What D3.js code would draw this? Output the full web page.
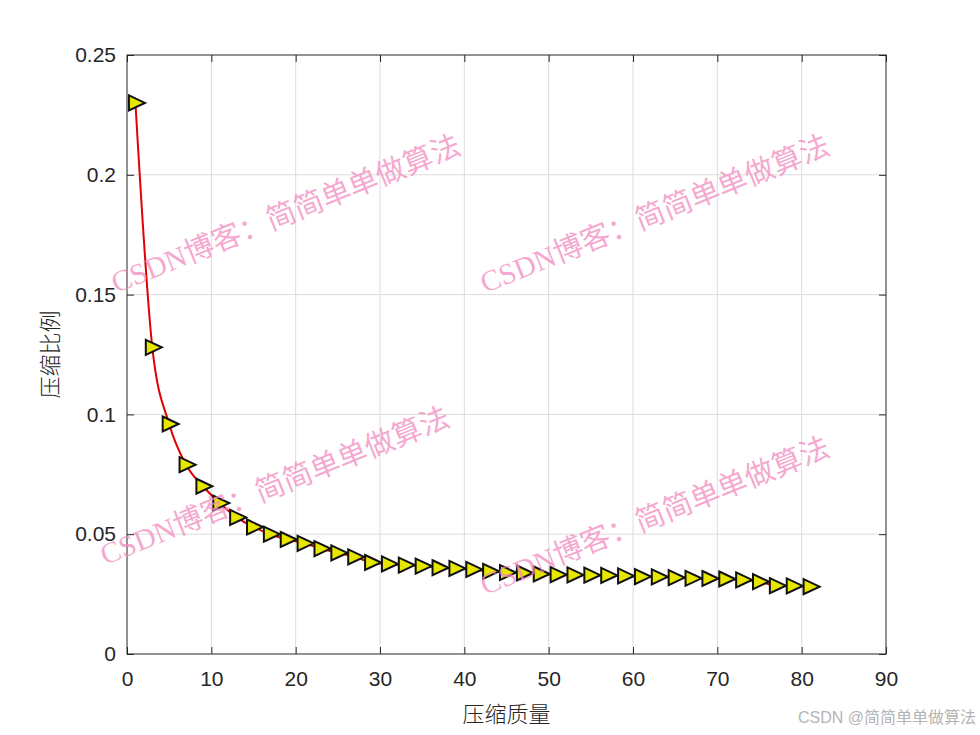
<!DOCTYPE html>
<html>
<head>
<meta charset="utf-8">
<script src="https://cdnjs.cloudflare.com/ajax/libs/d3/7.8.5/d3.min.js"></script>
<style>
  body { margin: 0; background: #fff; }
  svg { display: block; }
  .tick text { font-family: "Liberation Sans", Arial, sans-serif; font-size: 21px; fill: #262626; }
</style>
</head>
<body>
<div id="chart"></div>
<script>
// compression quality (x) and compression ratio (y)
var quality = [1, 3, 5, 7, 9, 11, 13, 15, 17, 19, 21, 23, 25, 27, 29, 31, 33, 35, 37, 39,
               41, 43, 45, 47, 49, 51, 53, 55, 57, 59, 61, 63, 65, 67, 69, 71, 73, 75, 77, 79, 81];
var ratio = [0.230, 0.128, 0.096, 0.079, 0.070, 0.063, 0.057, 0.053, 0.050, 0.0478,
             0.0462, 0.0440, 0.0422, 0.0405, 0.0382, 0.0376, 0.0371, 0.0367, 0.0360, 0.0357,
             0.0353, 0.0345, 0.0340, 0.0338, 0.0334, 0.0331, 0.0330, 0.0329, 0.0328, 0.0326,
             0.0323, 0.0322, 0.0319, 0.0316, 0.0315, 0.0313, 0.0309, 0.0302, 0.0285, 0.0284, 0.0281];
var xTicks = [0, 10, 20, 30, 40, 50, 60, 70, 80, 90];
var yTicks = [0, 0.05, 0.1, 0.15, 0.2, 0.25];
var xLabel = "压缩质量";
var yLabel = "压缩比例";
var wmText = "CSDN博客：简简单单做算法";

var width = 980, height = 735;
var margin = {left: 127, right: 94, top: 55, bottom: 81};
var w = width - margin.left - margin.right,
    h = height - margin.top - margin.bottom;

var svg = d3.select("#chart").append("svg")
    .attr("width", width).attr("height", height);

var x = d3.scaleLinear().domain([0, 90]).range([0, w]);
var y = d3.scaleLinear().domain([0, 0.25]).range([h, 0]);

var g = svg.append("g").attr("transform", "translate(" + margin.left + "," + margin.top + ")");

// grid
g.append("g").selectAll("line").data(xTicks.slice(1, -1)).join("line")
  .attr("x1", d => x(d)).attr("x2", d => x(d)).attr("y1", 0).attr("y2", h)
  .attr("stroke", "#dcdcdc").attr("stroke-width", 1);
g.append("g").selectAll("line").data(yTicks.slice(1, -1)).join("line")
  .attr("y1", d => y(d)).attr("y2", d => y(d)).attr("x1", 0).attr("x2", w)
  .attr("stroke", "#dcdcdc").attr("stroke-width", 1);

// axes, ticks inside
var fmtY = d => d === 0 ? "0" : String(d);
g.append("g").attr("transform", "translate(0," + h + ")")
  .call(d3.axisBottom(x).tickValues(xTicks).tickSize(-7).tickPadding(17))
  .call(a => a.select(".domain").remove());
g.append("g")
  .call(d3.axisLeft(y).tickValues(yTicks).tickFormat(fmtY).tickSize(-7).tickPadding(11))
  .call(a => a.select(".domain").remove());
g.append("g")
  .call(d3.axisTop(x).tickValues(xTicks).tickSize(-7).tickFormat(""))
  .call(a => a.select(".domain").remove());
g.append("g").attr("transform", "translate(" + w + ",0)")
  .call(d3.axisRight(y).tickValues(yTicks).tickSize(-7).tickFormat(""))
  .call(a => a.select(".domain").remove());
g.selectAll(".tick line").attr("stroke", "#262626");

g.append("rect").attr("width", w).attr("height", h)
  .attr("fill", "none").attr("stroke", "#262626").attr("stroke-width", 1);

// curve
var pts = quality.map((q, i) => [q, ratio[i]]);
g.append("path").datum(pts)
  .attr("fill", "none").attr("stroke", "#e00000").attr("stroke-width", 2)
  .attr("d", d3.line().x(d => x(d[0])).y(d => y(d[1])).curve(d3.curveMonotoneX));

// triangle markers
g.selectAll("path.mk").data(pts).join("path").attr("class", "mk")
  .attr("transform", d => "translate(" + x(d[0]) + "," + y(d[1]) + ")")
  .attr("d", "M-6.5,-7.5L9.5,0L-6.5,7.5Z")
  .attr("fill", "#e6e600").attr("stroke", "#111").attr("stroke-width", 2)
  .attr("stroke-linejoin", "miter");

// labels
svg.append("text").attr("x", margin.left + w / 2).attr("y", 722)
  .attr("text-anchor", "middle").attr("font-family", "Noto Sans CJK SC")
  .attr("font-size", 22).attr("font-weight", 300).attr("fill", "#262626").text(xLabel);
svg.append("text").attr("transform", "translate(58," + (margin.top + h / 2) + ") rotate(-90)")
  .attr("text-anchor", "middle").attr("font-family", "Noto Sans CJK SC")
  .attr("font-size", 22).attr("font-weight", 300).attr("fill", "#262626").text(yLabel);

// watermarks
var wm = [[287, 217], [656, 217], [276, 489], [656, 519]];
svg.append("g").selectAll("text").data(wm).join("text")
  .attr("transform", d => "translate(" + d[0] + "," + d[1] + ") rotate(-22)")
  .attr("text-anchor", "middle").attr("dominant-baseline", "middle")
  .attr("font-family", "Liberation Serif, Noto Sans CJK SC").attr("font-size", 29.5)
  .attr("fill", "#f28cc0").attr("fill-opacity", 0.75).text(wmText);

svg.append("text").attr("x", 976).attr("y", 723).attr("text-anchor", "end")
  .attr("font-family", "Liberation Sans, Noto Sans CJK SC").attr("font-size", 16)
  .attr("fill", "#b4b4b4").text("CSDN @简简单单做算法");
</script>
</body>
</html>
